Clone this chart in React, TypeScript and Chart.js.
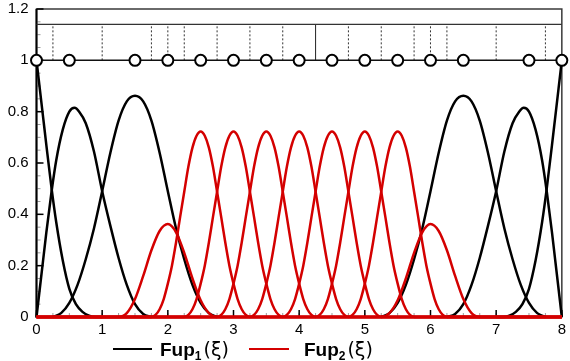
import React, { useEffect, useRef } from 'react';
import { Chart, registerables } from 'chart.js';

Chart.register(...registerables);

// ---- axis ticks ----
const X_TICKS = [0, 1, 2, 3, 4, 5, 6, 7, 8];
const Y_TICKS = [0, 0.2, 0.4, 0.6, 0.8, 1, 1.2];
const X_MINOR_STEP = 0.25;
const Y_MINOR_STEP = 0.05;

// ---- top band: node circles and knot lines ----
const NODES = [0, 0.5, 1.5, 2, 2.5, 3, 3.5, 4, 4.5, 5, 5.5, 6, 6.5, 7.5, 8];
const KNOTS = [0.25, 1, 1.75, 2, 2.25, 2.75, 3.25, 3.75, 4.25, 4.75, 5.25, 5.75, 6, 6.25, 7, 7.75];
const SOLID_KNOTS = [4.25];
const NODE_LEVEL = 1;
const BAND_TOP = 1.14;

// ---- Fup1 (black) boundary curves ----
const A_X = [0, 0.05, 0.1, 0.15, 0.23, 0.3, 0.4, 0.5, 0.6, 0.7, 0.8, 0.9, 1.0];
const A_Y = [1, 0.89, 0.78, 0.67, 0.5, 0.37, 0.22, 0.11, 0.05, 0.02, 0.005, 0, 0];

const B_X = [0, 0.05, 0.1, 0.15, 0.23, 0.3, 0.4, 0.5, 0.58, 0.65, 0.75, 0.875, 1, 1.125, 1.25, 1.375, 1.5, 1.625, 1.75];
const B_Y = [0, 0.11, 0.22, 0.33, 0.49, 0.61, 0.73, 0.8, 0.815, 0.8, 0.755, 0.645, 0.49, 0.355, 0.23, 0.125, 0.05, 0.012, 0];

const C_X = [0.25, 0.375, 0.5, 0.625, 0.75, 0.875, 1, 1.125, 1.25, 1.375, 1.5, 1.625, 1.75, 1.875, 2, 2.125, 2.25, 2.375, 2.5, 2.625, 2.75];
const C_Y = [0, 0.015, 0.055, 0.125, 0.225, 0.345, 0.49, 0.64, 0.765, 0.84, 0.862, 0.84, 0.765, 0.64, 0.49, 0.345, 0.225, 0.125, 0.055, 0.015, 0];

const CR_X = [5.25, 5.375, 5.5, 5.625, 5.75, 5.875, 6, 6.125, 6.25, 6.375, 6.5, 6.625, 6.75, 6.875, 7, 7.125, 7.25, 7.375, 7.5, 7.625, 7.75];
const CR_Y = [0, 0.015, 0.055, 0.125, 0.225, 0.345, 0.49, 0.64, 0.765, 0.84, 0.862, 0.84, 0.765, 0.64, 0.49, 0.345, 0.225, 0.125, 0.055, 0.015, 0];

const BR_X = [6.25, 6.375, 6.5, 6.625, 6.75, 6.875, 7, 7.125, 7.25, 7.35, 7.42, 7.5, 7.6, 7.7, 7.77, 7.85, 7.9, 7.95, 8];
const BR_Y = [0, 0.012, 0.05, 0.125, 0.23, 0.355, 0.49, 0.645, 0.755, 0.8, 0.815, 0.8, 0.73, 0.61, 0.49, 0.33, 0.22, 0.11, 0];

const AR_X = [7, 7.1, 7.2, 7.3, 7.4, 7.5, 7.6, 7.7, 7.77, 7.85, 7.9, 7.95, 8];
const AR_Y = [0, 0, 0.005, 0.02, 0.05, 0.11, 0.22, 0.37, 0.5, 0.67, 0.78, 0.89, 1];

// ---- Fup2 (red) curves ----
const SMALL_L_X = [1.25, 1.375, 1.5, 1.625, 1.75, 1.875, 2, 2.125, 2.25, 2.375, 2.5, 2.625, 2.75];
const SMALL_L_Y = [0, 0.015, 0.07, 0.16, 0.26, 0.335, 0.362, 0.33, 0.25, 0.15, 0.065, 0.015, 0];
const SMALL_R_X = [5.25, 5.375, 5.5, 5.625, 5.75, 5.875, 6, 6.125, 6.25, 6.375, 6.5, 6.625, 6.75];
const SMALL_R_Y = [0, 0.015, 0.065, 0.15, 0.25, 0.33, 0.362, 0.335, 0.26, 0.16, 0.07, 0.015, 0];

const RED_CENTERS = [2.5, 3, 3.5, 4, 4.5, 5, 5.5];
const RED_OFFSETS = [-0.75, -0.6875, -0.625, -0.5625, -0.5, -0.4375, -0.375, -0.3125, -0.25, -0.1875, -0.125, -0.0625, 0,
  0.0625, 0.125, 0.1875, 0.25, 0.3125, 0.375, 0.4375, 0.5, 0.5625, 0.625, 0.6875, 0.75];
const RED_VALUES = [0, 0.008, 0.03, 0.07, 0.13, 0.2, 0.29, 0.39, 0.488, 0.585, 0.66, 0.706, 0.723,
  0.706, 0.66, 0.585, 0.488, 0.39, 0.29, 0.2, 0.13, 0.07, 0.03, 0.008, 0];

const X_MIN = 0;
const X_MAX = 8;

const BLACK = '#000000';
const RED = '#d40000';

const pts = (xs: number[], ys: number[]) => xs.map((x, i) => ({ x, y: ys[i] }));
const padZero = (p: { x: number; y: number }[]) => {
  const out = [...p];
  if (out[0].x > X_MIN) out.unshift({ x: X_MIN, y: 0 });
  if (out[out.length - 1].x < X_MAX) out.push({ x: X_MAX, y: 0 });
  return out;
};

function curve(data: { x: number; y: number }[], color: string) {
  return {
    data,
    borderColor: color,
    backgroundColor: color,
    borderWidth: 2.5,
    pointRadius: 0,
    showLine: true,
    cubicInterpolationMode: 'monotone' as const,
    clip: false as const,
  };
}

const axisPlugin = {
  id: 'axisPlugin',
  beforeDatasetsDraw(chart: any) {
    const { ctx, chartArea, scales } = chart;
    const { left, right, top, bottom } = chartArea;
    const xs = scales.x;
    const ys = scales.y;
    ctx.save();
    // frame
    ctx.strokeStyle = '#3a3a3a';
    ctx.lineWidth = 1.5;
    ctx.strokeRect(left, top, right - left, bottom - top);
    // minor ticks
    ctx.lineWidth = 1;
    ctx.strokeStyle = '#9a9a9a';
    const yMax = Y_TICKS[Y_TICKS.length - 1];
    for (let i = 0; i * Y_MINOR_STEP <= yMax + 1e-9; i++) {
      const py = ys.getPixelForValue(i * Y_MINOR_STEP);
      ctx.beginPath();
      ctx.moveTo(left, py);
      ctx.lineTo(left + 4, py);
      ctx.stroke();
    }
    for (let i = 0; X_MIN + i * X_MINOR_STEP <= X_MAX + 1e-9; i++) {
      const px = xs.getPixelForValue(X_MIN + i * X_MINOR_STEP);
      ctx.beginPath();
      ctx.moveTo(px, bottom);
      ctx.lineTo(px, bottom - 4);
      ctx.stroke();
    }
    // major ticks
    ctx.strokeStyle = '#000';
    ctx.lineWidth = 1.5;
    Y_TICKS.forEach((v) => {
      const py = ys.getPixelForValue(v);
      ctx.beginPath();
      ctx.moveTo(left, py);
      ctx.lineTo(left + 7, py);
      ctx.stroke();
    });
    X_TICKS.forEach((v) => {
      const px = xs.getPixelForValue(v);
      ctx.beginPath();
      ctx.moveTo(px, bottom);
      ctx.lineTo(px, bottom - 7);
      ctx.stroke();
    });
    // axis lines
    ctx.strokeStyle = '#000';
    ctx.lineWidth = 2;
    ctx.beginPath();
    ctx.moveTo(left, top);
    ctx.lineTo(left, bottom);
    ctx.lineTo(right, bottom);
    ctx.stroke();
    ctx.restore();
  },
};

export default function App() {
  const ref = useRef<HTMLCanvasElement | null>(null);

  useEffect(() => {
    if (!ref.current) return;
    const datasets: any[] = [];

    // node circles (top-most)
    datasets.push({
      data: NODES.map((x) => ({ x, y: NODE_LEVEL })),
      showLine: false,
      pointRadius: 5.5,
      pointBorderWidth: 2,
      pointBorderColor: BLACK,
      pointBackgroundColor: '#ffffff',
      pointStyle: 'circle',
      clip: false,
    });
    // node line y = 1
    datasets.push({
      data: [{ x: X_MIN, y: NODE_LEVEL }, { x: X_MAX, y: NODE_LEVEL }],
      showLine: true,
      borderColor: '#111',
      borderWidth: 1.5,
      pointRadius: 0,
      clip: false,
    });
    // band top line
    datasets.push({
      data: [{ x: X_MIN, y: BAND_TOP }, { x: X_MAX, y: BAND_TOP }],
      showLine: true,
      borderColor: '#333',
      borderWidth: 1.3,
      pointRadius: 0,
      clip: false,
    });
    // knot lines
    KNOTS.forEach((k) => {
      const solid = SOLID_KNOTS.includes(k);
      datasets.push({
        data: [{ x: k, y: NODE_LEVEL }, { x: k, y: BAND_TOP }],
        showLine: true,
        borderColor: solid ? '#222' : '#333',
        borderWidth: 1,
        borderDash: solid ? [] : [2, 2],
        pointRadius: 0,
      });
    });

    // red curves (drawn over black)
    datasets.push(curve(padZero(pts(SMALL_L_X, SMALL_L_Y)), RED));
    RED_CENTERS.forEach((c) => {
      datasets.push(curve(padZero(RED_OFFSETS.map((d, i) => ({ x: c + d, y: RED_VALUES[i] }))), RED));
    });
    datasets.push(curve(padZero(pts(SMALL_R_X, SMALL_R_Y)), RED));

    // black curves
    datasets.push(curve(pts(A_X, A_Y), BLACK));
    datasets.push(curve(pts(B_X, B_Y), BLACK));
    datasets.push(curve(pts(C_X, C_Y), BLACK));
    datasets.push(curve(pts(CR_X, CR_Y), BLACK));
    datasets.push(curve(pts(BR_X, BR_Y), BLACK));
    datasets.push(curve(pts(AR_X, AR_Y), BLACK));

    const font = { family: '"Liberation Sans", Arial, sans-serif', size: 15 };

    const chart = new Chart(ref.current, {
      type: 'scatter',
      data: { datasets },
      options: {
        animation: false,
        responsive: true,
        maintainAspectRatio: false,
        layout: { padding: { left: 0, right: 8, top: 9, bottom: 0 } },
        plugins: { legend: { display: false }, tooltip: { enabled: false } },
        scales: {
          x: {
            type: 'linear',
            min: X_MIN,
            max: X_MAX,
            grid: { display: false, drawTicks: false },
            border: { display: false },
            afterBuildTicks: (s: any) => { s.ticks = X_TICKS.map((v) => ({ value: v })); },
            afterFit: (s: any) => { s.height = 44; },
            ticks: { font, color: '#000', padding: 4, maxRotation: 0, callback: (v: any) => String(v) },
          },
          y: {
            type: 'linear',
            min: 0,
            max: 1.2,
            grid: { display: false, drawTicks: false },
            border: { display: false },
            afterBuildTicks: (s: any) => { s.ticks = Y_TICKS.map((v) => ({ value: v })); },
            afterFit: (s: any) => { s.width = 36.5; s.paddingTop = 0; s.paddingBottom = 0; },
            ticks: { font, color: '#000', padding: 8, callback: (v: any) => String(Math.round(v * 10) / 10) },
          },
        },
      },
      plugins: [axisPlugin],
    });
    return () => chart.destroy();
  }, []);

  const legendText: React.CSSProperties = {
    fontFamily: '"Liberation Sans", Arial, sans-serif',
    fontWeight: 'bold',
    fontSize: 19,
    color: '#000',
    whiteSpace: 'nowrap',
    lineHeight: '22px',
  };
  const xi: React.CSSProperties = { fontFamily: '"DejaVu Sans", sans-serif', fontWeight: 'normal', marginLeft: 2 };
  const sub: React.CSSProperties = { fontSize: 12, verticalAlign: '-4px', lineHeight: 0 };

  return (
    <div style={{ position: 'fixed', left: 0, top: 0, width: 570, height: 361, background: '#fff' }}>
      <canvas ref={ref} />
      <div style={{ position: 'absolute', left: 113, top: 337, display: 'flex', alignItems: 'center', height: 24 }}>
        <div style={{ width: 39, height: 0, borderTop: '2.5px solid #000', marginRight: 8 }} />
        <span style={legendText}>
          Fup<span style={sub}>1</span><span style={xi}>(ξ)</span>
        </span>
        <div style={{ width: 40, height: 0, borderTop: '2.5px solid ' + RED, marginLeft: 20, marginRight: 15 }} />
        <span style={legendText}>
          Fup<span style={sub}>2</span><span style={xi}>(ξ)</span>
        </span>
      </div>
    </div>
  );
}
